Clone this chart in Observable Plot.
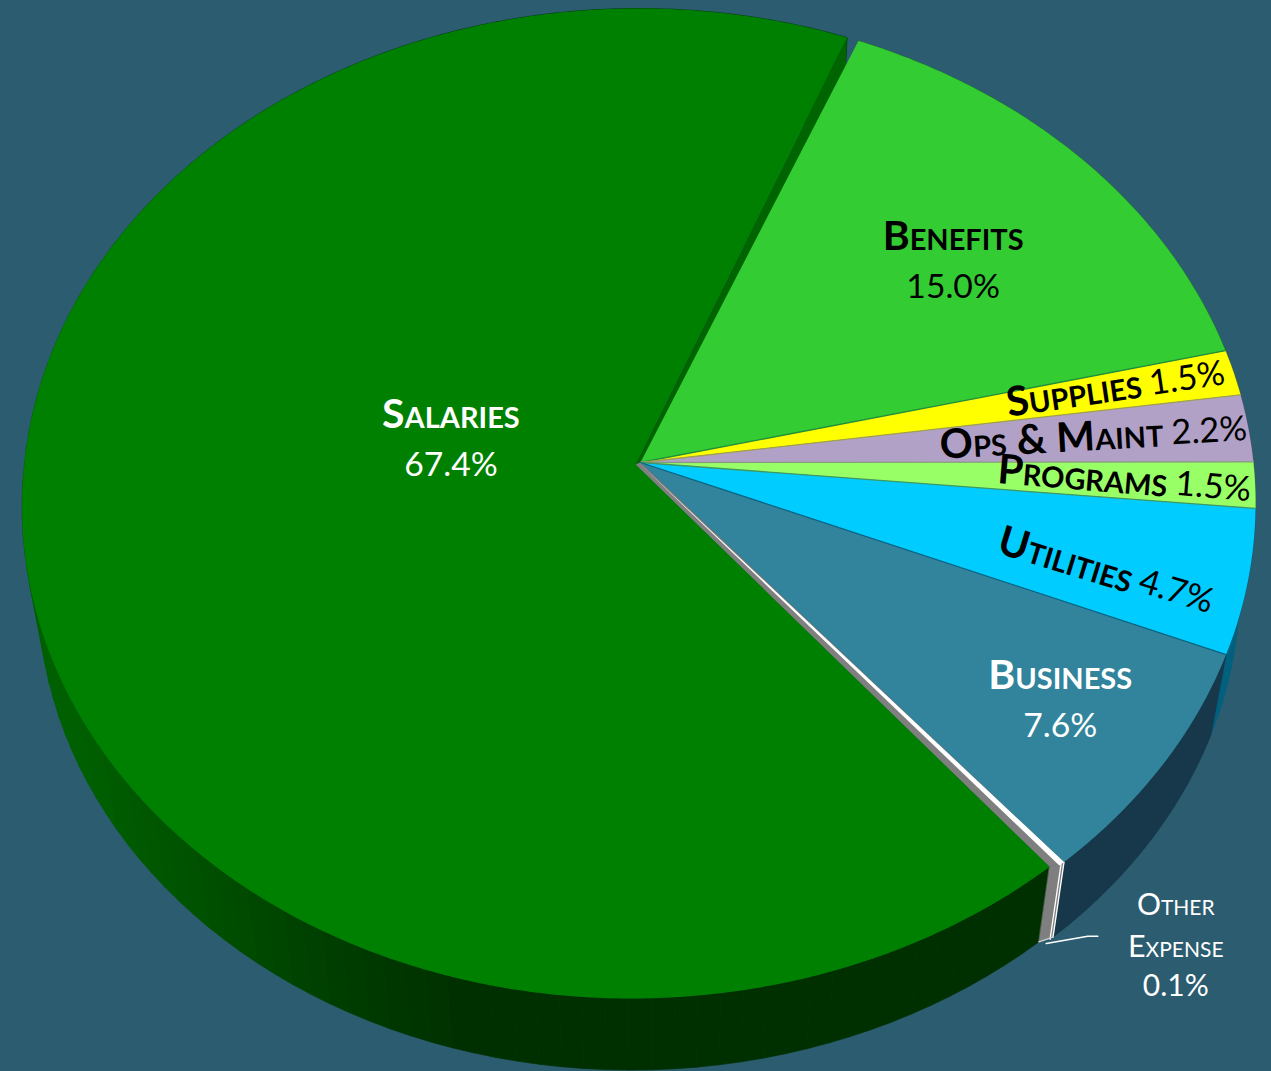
<!DOCTYPE html>
<html>
<head>
<meta charset="utf-8">
<script src="https://cdn.jsdelivr.net/npm/d3@7"></script>
<script src="https://cdn.jsdelivr.net/npm/@observablehq/plot@0.6"></script>
<style>
html,body{margin:0;padding:0;background:#2b5c6f;overflow:hidden}
svg{display:block}
</style>
</head>
<body>
<div id="chart"></div>
<script>
// Values, clockwise from Benefits, Salaries last
const categories = ["Benefits","Supplies","Ops & Maint","Programs","Utilities","Business","Other Expense","Salaries"];
const shares = [15.0,1.5,2.2,1.5,4.7,7.6,0.1,67.4];
const shareLabels = ["15.0%","1.5%","2.2%","1.5%","4.7%","7.6%","0.1%","67.4%"];

// Styling, by category
const faceColors = ["#33cc33","#ffff00","#b2a1c7","#99ff66","#00ccff","#31849b","#ffffff","#008000"];
const wallColors = ["#1d7a1d","#8f8f00","#5f5570","#4f8f35","#00607e","#16384a","#7f7f7f","#004000"];
const edgeColors = ["#1f8f3a","#a0a050","#8a9a80","#3f9a60","#0a6585","#2a7088","#7f7f7f","#008000"];
const textColors = ["#000000","#000000","#000000","#000000","#000000","#ffffff","#ffffff","#ffffff"];
const salaryWallStops = ["#006000","#005000","#003f00","#003000"];

// Label placement, polar from each slice's middle: radius fraction, turn in degrees, text rotation
const labelRadius = [0.676,0.844,0.8593,0.8579,0.8208,0.8076,1.217,0.3123];
const labelTurn = [-1.8,0.34,-0.05,-0.27,-2.88,0.55,1.4,-17.1];
const labelRotate = [0,-8.3,-3.2,4.7,17,0,0,0];

// Pie geometry: perspective disc
const W = 1271, H = 1071;
const cx = 640, cy = 462, a = 614.4, b = 491.6, k = 0.0828, rimShift = -1.5;
const vanishY = 3750, shrink = 0.026;
const startAngle = 67.4, salaryGapTop = 1.2, salaryGapBottom = 0.4;
const salaryApex = [-5, 2], salaryLean = [8, 4];

const rad = d => d * Math.PI / 180;
function proj(deg, r = 1) {
  const X = r * Math.cos(rad(deg)), Y = -r * Math.sin(rad(deg));
  const w = 1 - k * Y;
  return [cx + a * X / w + rimShift * r, cy + b * Y / w];
}
const toBase = ([x, y], t = 1) => [x + (cx - x) * shrink * t, y + (vanishY - y) * shrink * t];
const wall = (deg, t = 1) => toBase(proj(deg), t);
// The Salaries slice leans slightly away from the rest of the disc
function salRim(deg) {
  const [x, y] = proj(deg);
  const X = Math.cos(rad(deg)), Y = Math.max(0, -Math.sin(rad(deg)));
  return [x - Y * (salaryLean[0] + salaryLean[1] * X), y];
}
function range(a0, a1, stepDeg = 0.5) {
  const n = Math.max(1, Math.ceil(Math.abs(a1 - a0) / stepDeg));
  return d3.range(n + 1).map(i => a0 + (a1 - a0) * i / n);
}

// Angular extents from the shares
let cursor = startAngle;
const slices = categories.map((name, i) => {
  const a0 = cursor, a1 = cursor - shares[i] * 3.6;
  cursor = a1;
  return {i, name, a0, a1, mid: (a0 + a1) / 2};
});
const sal = slices[7], oth = slices[6];
sal.a0 = oth.a1 - salaryGapBottom;
sal.a1 = startAngle + salaryGapTop - 360;

const rows = (id, color, pts) => pts.map(([x, y]) => ({id, color, x, y}));

// Walls
const wallRows = [];
slices.forEach(s => {
  if (s.i === 7 || s.i === 6) return;
  const as = range(s.a0, s.a1);
  wallRows.push(...rows("w" + s.i, wallColors[s.i], [...as.map(d => proj(d)), ...as.slice().reverse().map(d => wall(d))]));
});
// Salaries wall: shaded strips from left to right
const wallShade = d3.scaleLinear().domain([70, 200, 320, 460]).range(salaryWallStops).clamp(true);
range(sal.a0, sal.a1, 2).forEach((d, j, all) => {
  if (j === all.length - 1) return;
  const e = all[j + 1];
  const color = wallShade(salRim((d + e) / 2)[0]);
  wallRows.push(...rows("s" + j, color, [salRim(d), salRim(e), toBase(salRim(e)), toBase(salRim(d))]));
});
// Other Expense wall
const cornerS = salRim(sal.a0), cornerO = proj(oth.a0);
const othWall = rows("o", wallColors[6], [cornerS, cornerO, toBase(cornerO), toBase(cornerS)]);

// Top faces
const faceRows = [];
const apexS = [cx + salaryApex[0], cy + salaryApex[1]];
const topS = salRim(sal.a1);
faceRows.push(...rows("cut", "#006400", [apexS, topS, toBase(topS, 0.24), proj(startAngle - 1, 0.92), [cx, cy]]));
slices.forEach(s => {
  if (s.i === 7 || s.i === 6) return;
  faceRows.push(...rows("f" + s.i, faceColors[s.i], [[cx, cy], ...range(s.a0, s.a1).map(d => proj(d))]));
});
faceRows.push(...rows("og", wallColors[6], [apexS, cornerS, cornerO, [cx, cy]]));
faceRows.push(...rows("of", faceColors[6], [[cx + 1, cy + 3], proj(oth.a1 - 0.2), cornerO]));
faceRows.push(...rows("f7", faceColors[7], [apexS, ...range(sal.a0, sal.a1).map(salRim)]));

// Thin dark seams between the slices
const seamRows = [];
[1, 2, 3, 4, 5].forEach(i => seamRows.push(...rows("e" + i, edgeColors[i - 1], [[cx, cy], proj(slices[i].a0)])));

const labels = slices.map(s => {
  const [x, y] = proj(s.mid + labelTurn[s.i], labelRadius[s.i]);
  return {name: s.name, pct: shareLabels[s.i], x, y, rotate: labelRotate[s.i], fill: textColors[s.i], i: s.i};
});
const stacked = labels.filter(d => [0, 5, 7].includes(d.i));
const inline = labels.filter(d => [1, 2, 3, 4].includes(d.i));
const other = labels.filter(d => d.i === 6);
const oa = other[0], base = toBase(proj(oth.a0 - 0.8), 1.02);
const leader = rows("l", "#ffffff", [base, [oa.x - 88, oa.y - 10], [oa.x - 78, oa.y - 10]]);

const font = {fontFamily: "Lato", lineAnchor: "middle"};
const chart = Plot.plot({
  width: W, height: H, margin: 0,
  x: {domain: [0, W], range: [0, W], axis: null},
  y: {domain: [0, H], range: [0, H], axis: null},
  color: {type: "identity"},
  style: {background: "#2b5c6f", fontFamily: "Lato"},
  marks: [
    Plot.line(wallRows, {x: "x", y: "y", z: "id", fill: "color", stroke: "color", strokeWidth: 0.7, curve: "linear-closed"}),
    Plot.line(othWall, {x: "x", y: "y", z: "id", fill: "color", stroke: "color", strokeWidth: 0.5, curve: "linear-closed"}),
    Plot.line([...rows("o1", "#ffffff", [proj(oth.a1), wall(oth.a1)]), ...rows("o2", "#ffffff", [cornerO, toBase(cornerO)]), ...rows("o3", "#d0d0d0", [toBase(cornerS), toBase(cornerO)])],
      {x: "x", y: "y", z: "id", stroke: "color", strokeWidth: 1.3}),
    Plot.line(faceRows, {x: "x", y: "y", z: "id", fill: "color", curve: "linear-closed"}),
    Plot.line(seamRows, {x: "x", y: "y", z: "id", stroke: "color", strokeWidth: 1.3}),
    Plot.line(leader, {x: "x", y: "y", z: "id", stroke: "color", strokeWidth: 1.6}),
    Plot.text(stacked, {...font, x: "x", y: "y", text: "name", fill: "fill", fontSize: 41, fontWeight: 700, fontVariant: "small-caps", dy: -25.5}),
    Plot.text(stacked, {...font, x: "x", y: "y", text: "pct", fill: "fill", fontSize: 33.7, dy: 25}),
    Plot.text(inline, {...font, x: "x", y: "y", text: "name", fill: "fill", fontSize: 41, fontWeight: 700, fontVariant: "small-caps", rotate: "rotate", textAnchor: "end"}),
    Plot.text(inline, {...font, x: "x", y: "y", text: "pct", fill: "fill", fontSize: 34.5, rotate: "rotate", textAnchor: "start", dx: 8}),
    Plot.text(other, {...font, x: "x", y: "y", text: () => "Other", fill: "fill", fontSize: 30, fontVariant: "small-caps", dy: -41}),
    Plot.text(other, {...font, x: "x", y: "y", text: () => "Expense", fill: "fill", fontSize: 30.5, fontVariant: "small-caps", dy: 1}),
    Plot.text(other, {...font, x: "x", y: "y", text: "pct", fill: "fill", fontSize: 30, dy: 40})
  ]
});
document.getElementById("chart").append(chart);
</script>
</body>
</html>
